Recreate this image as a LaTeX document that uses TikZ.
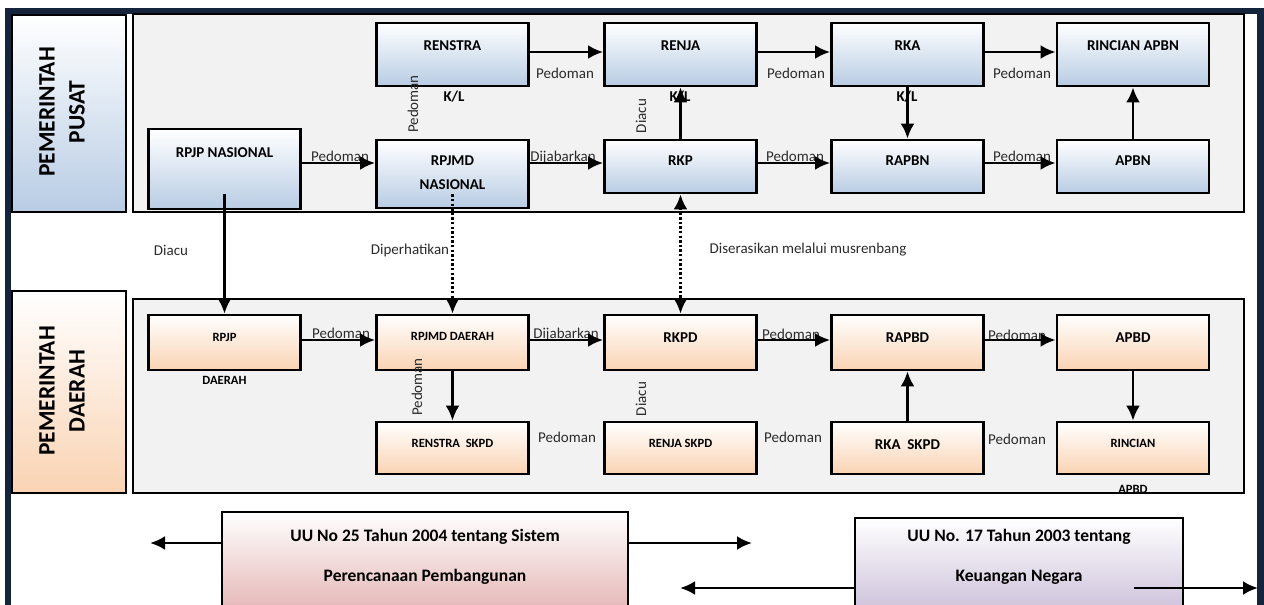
\documentclass[tikz,border=0pt]{standalone}
\usepackage{fontspec}
\setmainfont{Carlito}
\usetikzlibrary{arrows.meta,calc}
\definecolor{navy}{HTML}{14243C}
\definecolor{panelgray}{HTML}{F2F2F2}
\definecolor{blueB}{HTML}{B8CCE4}
\definecolor{peachB}{HTML}{FAD3B3}
\definecolor{pinkB}{HTML}{E3B4B3}
\definecolor{lavB}{HTML}{CBBFD9}
\definecolor{txtgray}{HTML}{2B2B2B}
\newcommand\FontBox{\fontsize{15}{18}\selectfont}
\newcommand\FontSm{\fontsize{12.6}{15}\selectfont}
\newcommand\FontLab{\fontsize{15}{18}\selectfont}
\newcommand\FontSide{\fontsize{23.5}{30}\selectfont}
\newcommand\FontUU{\fontsize{17.5}{21}\selectfont}
\begin{document}
\begin{tikzpicture}[x=1pt,y=-1pt,
  panel/.style={draw=black, line width=2.2pt, fill=panelgray, inner sep=0pt},
  bluebox/.style={draw=black, line width=2.8pt, top color=white, bottom color=blueB, inner sep=0pt, minimum width=152pt},
  peachbox/.style={draw=black, line width=2.8pt, top color=white, bottom color=peachB, inner sep=0pt, minimum width=152pt},
  boxtxt/.style={font=\FontBox\bfseries, text=black, inner sep=0pt},
  smtxt/.style={font=\FontSm\bfseries, text=black, inner sep=0pt},
  labtxt/.style={font=\FontLab, text=txtgray, inner sep=0pt},
  sidetxt/.style={font=\FontSide\bfseries, text=black, rotate=90, align=center, inner sep=0pt},
  uutxt/.style={font=\FontUU\bfseries, text=black, inner sep=0pt},
  arr/.style={line width=2.8pt, -{Latex[length=15pt,width=14pt]}},
  dotline/.style={line width=2.8pt, dash pattern=on 2.4pt off 2.2pt}
]
\useasboundingbox (0,0) rectangle (1264,605);
\clip (0,0) rectangle (1264,605);

% outer frame
\fill[navy] (5,8) rectangle (1264,14);
\fill[navy] (5,8) rectangle (11,605);
\fill[navy] (1257,8) rectangle (1264,605);

% panels
\node[panel, minimum width=1111pt, minimum height=198pt] (ppanel) at (688.5,113) {};
\node[panel, minimum width=1111pt, minimum height=194pt] (dpanel) at (688.5,396) {};

% side label boxes
\node[draw=black, line width=2.8pt, top color=white, bottom color=blueB, minimum width=114pt, minimum height=197pt, inner sep=0pt] (pside) at (69,113.5) {};
\node[draw=black, line width=2.8pt, top color=white, bottom color=peachB, minimum width=114pt, minimum height=202pt, inner sep=0pt] (dside) at (69,392) {};
\node[sidetxt] (psidet) at (62,112) {PEMERINTAH\\PUSAT};
\node[sidetxt] (dsidet) at (62,391) {PEMERINTAH\\DAERAH};

% row coordinates
\coordinate (ya) at (0,52);
\coordinate (yb) at (0,163);
\coordinate (yc) at (0,340);

% pusat boxes
\node[bluebox, minimum height=63pt] (renstra) at (452.5,54.5) {};
\node[bluebox, minimum height=63pt] (renja) at (680.5,54.5) {};
\node[bluebox, minimum height=63pt] (rka) at (907.5,54.5) {};
\node[bluebox, minimum height=63pt] (rincianapbn) at (1133,54.5) {};
\node[bluebox, minimum height=80pt] (rpjpn) at (224.5,169) {};
\node[bluebox, minimum height=68pt] (rpjmdn) at (452.5,174) {};
\node[bluebox, minimum height=53pt] (rkp) at (680.5,166.5) {};
\node[bluebox, minimum height=53pt] (rapbn) at (907.5,166.5) {};
\node[bluebox, minimum height=53pt] (apbn) at (1133,166.5) {};

% daerah boxes
\node[peachbox, minimum height=55pt] (rpjpd) at (224.5,342.5) {};
\node[peachbox, minimum height=55pt] (rpjmdd) at (452.5,342.5) {};
\node[peachbox, minimum height=55pt] (rkpd) at (680.5,342.5) {};
\node[peachbox, minimum height=55pt] (rapbd) at (907.5,342.5) {};
\node[peachbox, minimum height=55pt] (apbd) at (1133,342.5) {};
\node[peachbox, minimum height=52pt] (renstraskpd) at (452.5,448) {};
\node[peachbox, minimum height=52pt] (renjaskpd) at (680.5,448) {};
\node[peachbox, minimum height=52pt] (rkaskpd) at (907.5,448) {};
\node[peachbox, minimum height=52pt] (rincianapbd) at (1133,448) {};

% box texts pusat
\node[boxtxt] (t1) at (452.5,46) {RENSTRA};
\node[boxtxt] (t2) at (680.5,46) {RENJA};
\node[boxtxt] (t3) at (907.5,46) {RKA};
\node[boxtxt] (t4) at (1133,46) {RINCIAN APBN};
\node[boxtxt] (t5) at (454,97) {K/L};
\node[boxtxt] (t6) at (680,97) {K/L};
\node[boxtxt] (t7) at (907,97) {K/L};
\node[boxtxt] (t8) at (224.5,153) {RPJP NASIONAL};
\node[boxtxt] (t9) at (452.5,161) {RPJMD};
\node[boxtxt] (t10) at (452.5,185) {NASIONAL};
\node[boxtxt] (t11) at (680.5,161) {RKP};
\node[boxtxt] (t12) at (907.5,161) {RAPBN};
\node[boxtxt] (t13) at (1133,161) {APBN};

% box texts daerah
\node[smtxt] (d1) at (224.5,337) {RPJP};
\node[smtxt] (d2) at (224.5,380) {DAERAH};
\node[smtxt] (d3) at (452.5,336) {RPJMD DAERAH};
\node[boxtxt] (d4) at (680.5,338) {RKPD};
\node[boxtxt] (d5) at (907.5,338) {RAPBD};
\node[boxtxt] (d6) at (1133,338) {APBD};
\node[smtxt] (d7) at (452.5,443) {RENSTRA\ \ SKPD};
\node[smtxt] (d8) at (680.5,443) {RENJA SKPD};
\node[boxtxt] (d9) at (907.5,445) {RKA\ \ SKPD};
\node[smtxt] (d10) at (1133,443) {RINCIAN};
\node[smtxt] (d11) at (1133,489) {APBD};

% connector labels pusat
\node[labtxt] (l1) at (565,73) {Pedoman};
\node[labtxt] (l2) at (796,73) {Pedoman};
\node[labtxt] (l3) at (1022,73) {Pedoman};
\node[labtxt, anchor=base] (l4) at (340,161) {Pedoman};
\node[labtxt, anchor=base] (l5) at (563,161) {Dijabarkan};
\node[labtxt, anchor=base] (l6) at (795,161) {Pedoman};
\node[labtxt, anchor=base] (l7) at (1022,161) {Pedoman};
\node[labtxt, rotate=90] (l8) at (413,104) {Pedoman};
\node[labtxt, rotate=90] (l9) at (641,116) {Diacu};

% between panels
\node[labtxt] (m1) at (171,250) {Diacu};
\node[labtxt] (m2) at (410,250) {Diperhatikan};
\node[labtxt] (m3) at (808,250) {Diserasikan melalui musrenbang};

% connector labels daerah
\node[labtxt, anchor=base] (e1) at (341,338) {Pedoman};
\node[labtxt, anchor=base] (e2) at (566,338) {Dijabarkan};
\node[labtxt, anchor=base] (e3) at (791,339) {Pedoman};
\node[labtxt, anchor=base] (e4) at (1017,340) {Pedoman};
\node[labtxt, rotate=90] (e5) at (417,387) {Pedoman};
\node[labtxt, rotate=90] (e6) at (641,399) {Diacu};
\node[labtxt] (e7) at (567,437) {Pedoman};
\node[labtxt] (e8) at (793,437) {Pedoman};
\node[labtxt] (e9) at (1017,439) {Pedoman};

% arrows pusat
\draw[arr] (renstra.east |- ya) -- (renja.west |- ya);
\draw[arr] (renja.east |- ya) -- (rka.west |- ya);
\draw[arr] (rka.east |- ya) -- (rincianapbn.west |- ya);
\draw[arr] (rpjpn.east |- yb) -- (rpjmdn.west |- yb);
\draw[arr] (rpjmdn.east |- yb) -- (rkp.west |- yb);
\draw[arr] (rkp.east |- yb) -- (rapbn.west |- yb);
\draw[arr] (rapbn.east |- yb) -- (apbn.west |- yb);
\draw[arr] (rkp.north) -- (renja.south);
\draw[arr] (rka.south) -- (rapbn.north);
\draw[arr] (apbn.north) -- (rincianapbn.south);

% arrows between
\draw[arr] ([yshift=16pt]rpjpn.south) -- (rpjpd.north);
\draw[dotline, -{Latex[length=15pt,width=14pt]}] ([yshift=15pt]rpjmdn.south) -- (rpjmdd.north);
\draw[dotline, {Latex[length=15pt,width=14pt]}-{Latex[length=15pt,width=14pt]}] (rkp.south) -- (rkpd.north);

% arrows daerah
\draw[arr] (rpjpd.east |- yc) -- (rpjmdd.west |- yc);
\draw[arr] (rpjmdd.east |- yc) -- (rkpd.west |- yc);
\draw[arr] (rkpd.east |- yc) -- (rapbd.west |- yc);
\draw[arr] (rapbd.east |- yc) -- (apbd.west |- yc);
\draw[arr] (rpjmdd.south) -- (renstraskpd.north);
\draw[arr] (rkaskpd.north) -- (rapbd.south);
\draw[arr] (apbd.south) -- (rincianapbd.north);

% UU boxes
\node[draw=black, line width=2.8pt, top color=white, bottom color=pinkB, minimum width=406pt, minimum height=103pt, inner sep=0pt] (uu25) at (425,563.5) {};
\node[draw=black, line width=2.8pt, top color=white, bottom color=lavB, minimum width=328pt, minimum height=97pt, inner sep=0pt] (uu17) at (1019,566.5) {};
\node[uutxt] (u1) at (425,537) {UU No 25 Tahun 2004 tentang Sistem};
\node[uutxt] (u2) at (425,577) {Perencanaan Pembangunan};
\node[uutxt] (u3) at (1019,537) {UU No. 17 Tahun 2003 tentang};
\node[uutxt] (u4) at (1019,577) {Keuangan Negara};

\coordinate (uul) at (150,543);
\coordinate (uur) at (752,543);
\coordinate (uu17l) at (680,588);
\coordinate (uu17s) at (1134,588);
\coordinate (uu17e) at (1258,588);
\draw[arr] ([yshift=20.5pt]uu25.west) -- (uul);
\draw[arr] ([yshift=20.5pt]uu25.east) -- (uur);
\draw[arr] ([yshift=-21.5pt]uu17.west) -- (uu17l);
\draw[arr] (uu17s) -- (uu17e);
\end{tikzpicture}
\end{document}
